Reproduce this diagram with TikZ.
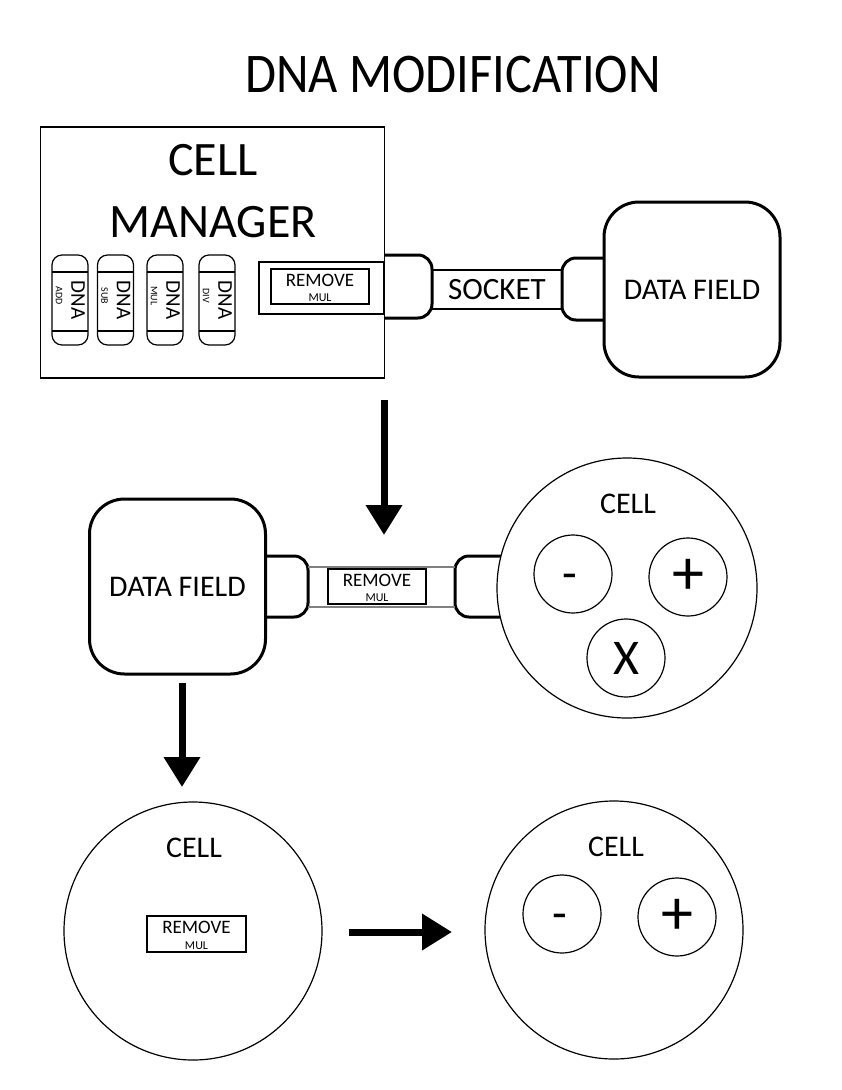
\documentclass[tikz,border=0pt]{standalone}
\usepackage{fontspec}
\setmainfont{Carlito}
\newfontfamily\titlefont{Carlito}[FakeStretch=0.9]
\usetikzlibrary{arrows.meta,calc,positioning}
\newcommand\setfs[1]{\fontsize{#1}{#1}\selectfont}

\tikzset{
  thickline/.style={line width=3pt},
  thinline/.style={line width=1.2pt},
  datafield/.style={draw, thickline, fill=white, rounded corners=35pt, minimum width=176pt,
    minimum height=175pt, inner sep=0pt, font=\setfs{30}},
  capsule/.style={draw, thinline, rounded corners=10pt, minimum width=36pt, minimum height=90pt,
    inner sep=0pt, outer sep=0pt},
  rmbox/.style={draw, thinline, minimum width=98pt, minimum height=35pt, inner sep=0pt, outer sep=0pt},
  cellcircle/.style={draw, thinline, fill=white, circle, minimum size=260pt, inner sep=0pt},
  opcircle/.style={draw, thinline, circle, minimum size=78pt, inner sep=0pt},
  bigarrow/.style={line width=7pt, -{Triangle[width=35pt,length=30pt]}}
}

\begin{document}
\begin{tikzpicture}[x=1pt, y=-1pt]
  \useasboundingbox (0,0) rectangle (841,1090);

  \node[font=\titlefont\setfs{56}] (title) at (453,75) {DNA MODIFICATION};

  % cell manager with its dna capsules
  \node[draw, thinline, minimum width=344pt, minimum height=251pt, inner sep=0pt] (manager) at (212.5,252.5) {};
  \node[font=\setfs{48}] (mgrcell) at (213,160) {CELL};
  \node[font=\setfs{48}] (mgrname) at (213,222.5) {MANAGER};
  \foreach \i/\cx/\lab in {1/70/ADD, 2/115.5/SUB, 3/165/MUL, 4/217/DIV}
  {
    \node[capsule] (dna\i) at (\cx,300) {};
    \draw[thinline] ($(dna\i.north west)+(0,17)$) -- ($(dna\i.north east)+(0,17)$);
    \draw[thinline] ($(dna\i.south west)+(0,-14)$) -- ($(dna\i.south east)+(0,-14)$);
    \node[rotate=-90, font=\setfs{21}, inner sep=0pt] (dnatxt\i) at (\cx+8,300) {DNA};
    \node[rotate=-90, font=\setfs{10}, inner sep=0pt] (dnalab\i) at (\cx-11,296) {\lab};
  }
  \node[draw, thinline, minimum width=125pt, minimum height=52pt, inner sep=0pt] (rmouter) at (321.5,288) {};
  \node[rmbox] (rm1) at (320,286.5) {};
  \node[font=\setfs{19}, inner sep=0pt] (rm1top) at ($(rm1.center)+(0,-6.5)$) {REMOVE};
  \node[font=\setfs{12}, inner sep=0pt] (rm1bot) at ($(rm1.center)+(0,11.5)$) {MUL};

  % socket to the data field
  \draw[thickline, rounded corners=14pt] (385,255) -- (432,255) -- (432,318) -- (385,318);
  \draw[thickline, rounded corners=14pt] (606,258) -- (562,258) -- (562,320) -- (606,320);
  \node[draw, thinline, minimum width=130pt, minimum height=39pt, inner sep=0pt, font=\setfs{31}] (socket) at (497,289.5) {SOCKET};
  \node[datafield] (field1) at (692,289.5) {DATA FIELD};

  \coordinate (a1start) at (384,400);
  \coordinate (a1end) at (384,535);
  \draw[bigarrow] (a1start) -- (a1end);

  % data field feeding the cell
  \draw[thickline, rounded corners=14pt] (262,556) -- (308,556) -- (308,617) -- (262,617);
  \draw[thickline, rounded corners=14pt] (503,556) -- (455,556) -- (455,617) -- (503,617);
  \draw[gray, line width=1.5pt] (308,567) -- (455,567) (308,607) -- (455,607);
  \node[rmbox] (rm2) at (377,586.5) {};
  \node[font=\setfs{19}, inner sep=0pt] (rm2top) at ($(rm2.center)+(0,-6.5)$) {REMOVE};
  \node[font=\setfs{12}, inner sep=0pt] (rm2bot) at ($(rm2.center)+(0,11.5)$) {MUL};
  \node[datafield] (field2) at (177.5,586.5) {DATA FIELD};

  \node[cellcircle] (cellmid) at (627,588) {};
  \node[font=\setfs{30}] (cellmidlab) at (628,504) {CELL};
  \node[opcircle] (midsub) at (573,574) {};
  \node[font=\setfs{48}, inner sep=0pt] (midsubtxt) at ($(midsub.center)+(-3,8)$) {-};
  \node[opcircle, font=\setfs{64}] (midadd) at (688,577) {+};
  \node[opcircle, font=\setfs{50}] (midmul) at (626,658) {X};

  \coordinate (a2start) at (182,683);
  \coordinate (a2end) at (182,787);
  \draw[bigarrow] (a2start) -- (a2end);

  % cells after the change
  \node[cellcircle, minimum size=258pt] (cellleft) at (193,931) {};
  \node[font=\setfs{30}] (cellleftlab) at (194,848) {CELL};
  \node[rmbox, minimum width=99pt, minimum height=36pt] (rm3) at (196.5,934) {};
  \node[font=\setfs{19}, inner sep=0pt] (rm3top) at ($(rm3.center)+(0,-6.5)$) {REMOVE};
  \node[font=\setfs{12}, inner sep=0pt] (rm3bot) at ($(rm3.center)+(0,11.5)$) {MUL};

  \coordinate (a3start) at (349,932);
  \coordinate (a3end) at (452,932);
  \draw[bigarrow] (a3start) -- (a3end);

  \node[cellcircle, minimum size=258pt] (cellright) at (614,930) {};
  \node[font=\setfs{30}] (cellrightlab) at (616,847) {CELL};
  \node[opcircle] (rightsub) at (562,914) {};
  \node[font=\setfs{48}, inner sep=0pt] (rightsubtxt) at ($(rightsub.center)+(-2,8)$) {-};
  \node[opcircle, font=\setfs{64}] (rightadd) at (677,917) {+};

\end{tikzpicture}
\end{document}
